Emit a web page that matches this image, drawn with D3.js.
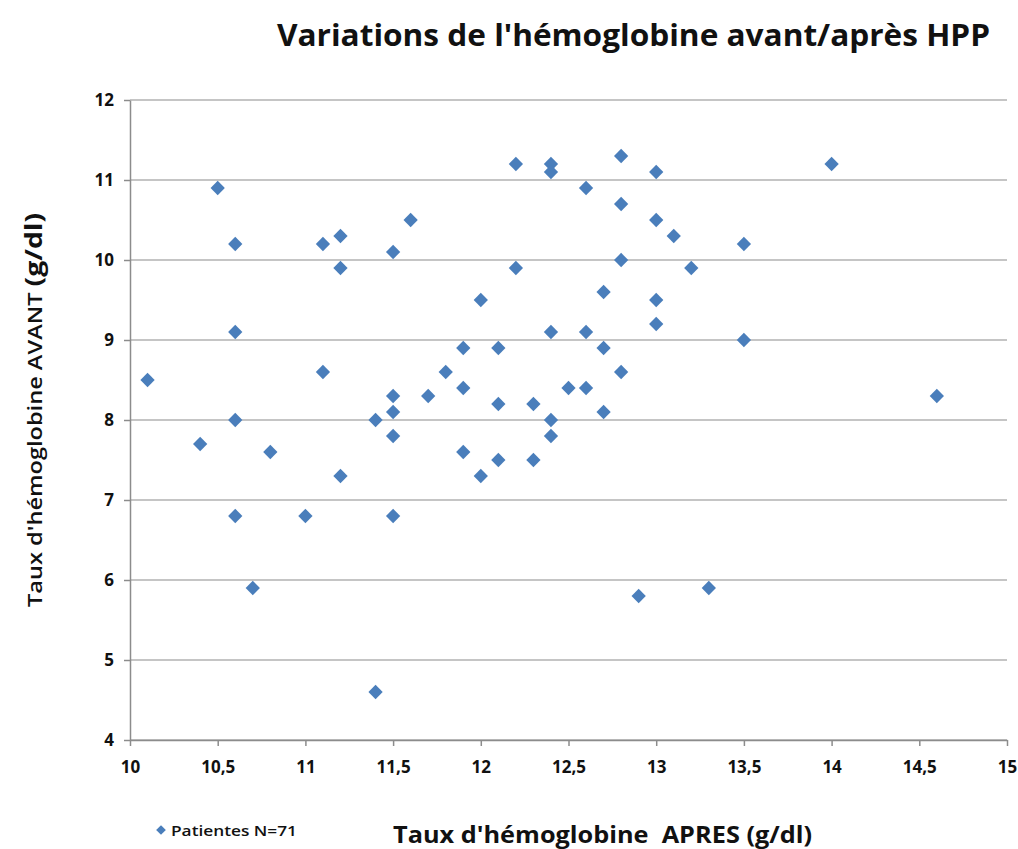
<!DOCTYPE html>
<html>
<head>
<meta charset="utf-8">
<script src="https://cdn.jsdelivr.net/npm/d3@7"></script>
<style>
  body { margin: 0; background: #fff; }
  text { font-family: "Open Sans", "Noto Sans", sans-serif; fill: #111; }
</style>
</head>
<body>
<div id="graf"></div>
<script>
// Valori: Hb dopo (x) e Hb prima (y)
var hbApres = [10.1, 10.4, 10.5, 10.6, 10.6, 10.6, 10.6, 10.7, 10.8, 11.0,
  11.1, 11.1, 11.2, 11.2, 11.2, 11.4, 11.4, 11.5, 11.5, 11.5,
  11.5, 11.5, 11.6, 11.7, 11.8, 11.9, 11.9, 11.9, 12.0, 12.0,
  12.1, 12.1, 12.1, 12.2, 12.2, 12.3, 12.3, 12.4, 12.4, 12.4,
  12.4, 12.4, 12.5, 12.6, 12.6, 12.6, 12.7, 12.7, 12.7, 12.8,
  12.8, 12.8, 12.8, 12.9, 13.0, 13.0, 13.0, 13.0, 13.1, 13.2,
  13.3, 13.5, 13.5, 14.0, 14.6];
var hbAvant = [8.5, 7.7, 10.9, 10.2, 9.1, 8.0, 6.8, 5.9, 7.6, 6.8,
  10.2, 8.6, 10.3, 9.9, 7.3, 8.0, 4.6, 10.1, 8.3, 8.1,
  7.8, 6.8, 10.5, 8.3, 8.6, 8.9, 8.4, 7.6, 9.5, 7.3,
  8.9, 8.2, 7.5, 11.2, 9.9, 8.2, 7.5, 11.2, 11.1, 9.1,
  8.0, 7.8, 8.4, 10.9, 9.1, 8.4, 9.6, 8.9, 8.1, 11.3,
  10.7, 10.0, 8.6, 5.8, 11.1, 10.5, 9.5, 9.2, 10.3, 9.9,
  5.9, 10.2, 9.0, 11.2, 8.3];
var xTicks = [10, 10.5, 11, 11.5, 12, 12.5, 13, 13.5, 14, 14.5, 15];
var yTicks = [4, 5, 6, 7, 8, 9, 10, 11, 12];
var serieNome = "Patientes N=71";

var W = 1018, H = 849;
var margin = {top: 100, right: 11, bottom: 109, left: 130};
var width = W - margin.left - margin.right;
var height = H - margin.top - margin.bottom;

var svg = d3.select("#graf")
  .append("svg")
  .attr("width", W)
  .attr("height", H);

var g = svg.append("g")
  .attr("transform", "translate(" + margin.left + "," + margin.top + ")");

var x = d3.scaleLinear().domain([10, 15]).range([0, width]);
var y = d3.scaleLinear().domain([4, 12]).range([height, 0]);
var fmt = function(d) { return String(d).replace(".", ","); };

// griglia orizzontale
g.append("g")
  .selectAll("line")
  .data(yTicks)
  .enter()
  .append("line")
  .attr("x1", 0).attr("x2", width)
  .attr("y1", function(d) { return y(d); })
  .attr("y2", function(d) { return y(d); })
  .attr("stroke", "#8c8c8c")
  .attr("stroke-width", 1.2);

// asse X
var ax = g.append("g")
  .attr("transform", "translate(0," + height + ")")
  .call(d3.axisBottom(x).tickValues(xTicks).tickFormat(fmt).tickSize(6).tickSizeOuter(0));
ax.selectAll("text")
  .attr("y", 21)
  .attr("dy", "0.71em")
  .attr("font-size", 17)
  .style("font-size", "17px")
  .style("font-weight", "bold");

// asse Y
var ay = g.append("g")
  .call(d3.axisLeft(y).tickValues(yTicks).tickFormat(fmt).tickSize(6).tickSizeOuter(0));
ay.selectAll("text")
  .attr("x", -16)
  .attr("font-size", 17)
  .style("font-size", "17px")
  .style("font-weight", "bold");

svg.selectAll(".domain, .tick line")
  .attr("stroke", "#8c8c8c")
  .attr("stroke-width", 1.5);

// punti a rombo
var diamond = d3.symbol().type(d3.symbolDiamond2).size(130);
g.append("g")
  .selectAll("path")
  .data(hbApres)
  .enter()
  .append("path")
  .attr("d", diamond)
  .attr("transform", function(d, i) {
    return "translate(" + x(d) + "," + y(hbAvant[i]) + ")";
  })
  .attr("fill", "#4a7ebb");

// titolo
svg.append("text")
  .attr("x", 277).attr("y", 46)
  .attr("textLength", 713)
  .attr("lengthAdjust", "spacingAndGlyphs")
  .style("font-size", "31px")
  .style("font-weight", "bold")
  .text("Variations de l'hémoglobine avant/après HPP");

// titolo asse X
svg.append("text")
  .attr("x", 393).attr("y", 843)
  .attr("textLength", 419)
  .attr("lengthAdjust", "spacingAndGlyphs")
  .style("white-space", "pre")
  .style("font-size", "23px")
  .style("font-weight", "bold")
  .text("Taux d'hémoglobine  APRES (g/dl)");

// titolo asse Y
var yl = svg.append("text")
  .attr("transform", "translate(42,607) rotate(-90)")
  .attr("textLength", 394)
  .attr("lengthAdjust", "spacingAndGlyphs");
yl.append("tspan")
  .style("font-size", "20px")
  .style("font-weight", "600")
  .text("Taux d'hémoglobine AVANT ");
yl.append("tspan")
  .style("font-size", "24px")
  .style("font-weight", "bold")
  .text("(g/dl)");

// legenda
svg.append("path")
  .attr("d", d3.symbol().type(d3.symbolDiamond2).size(60))
  .attr("transform", "translate(161,830)")
  .attr("fill", "#4a7ebb");
svg.append("text")
  .attr("x", 171).attr("y", 836)
  .attr("textLength", 126)
  .attr("lengthAdjust", "spacingAndGlyphs")
  .style("font-size", "15px")
  .style("font-weight", "600")
  .text(serieNome);
</script>
</body>
</html>
